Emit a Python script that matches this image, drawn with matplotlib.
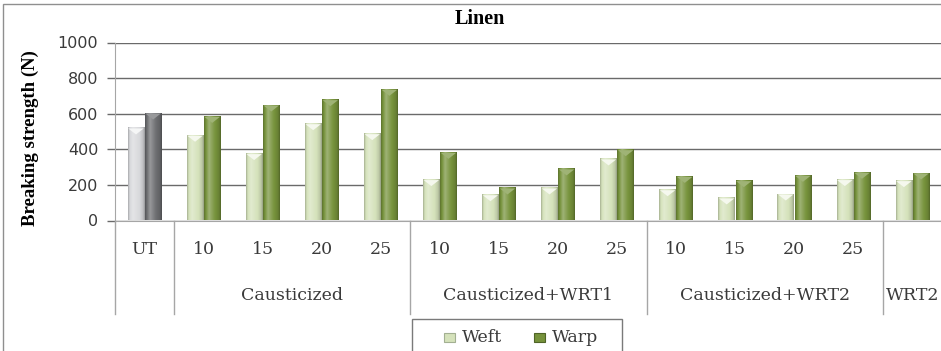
import numpy as np
import matplotlib
matplotlib.use("Agg")
import matplotlib.pyplot as plt
import matplotlib.transforms as mtransforms
from matplotlib.colors import to_rgb
from matplotlib.patches import Polygon, Rectangle
from matplotlib.lines import Line2D

# ---- data -------------------------------------------------------------
sub_labels = ["UT", "10", "15", "20", "25", "10", "15", "20", "25",
              "10", "15", "20", "25", ""]
group_names = ["", "Causticized", "Causticized+WRT1", "Causticized+WRT2", "WRT2"]
group_starts = [0, 1, 5, 9, 13]
group_ends = [0, 4, 8, 12, 13]
weft = [517, 476, 373, 541, 485, 227, 142, 180, 343, 170, 124, 146, 227, 221]
warp = [601, 582, 646, 676, 734, 380, 180, 287, 395, 245, 221, 251, 268, 264]
yticks = [0, 200, 400, 600, 800, 1000]
series_names = ["Weft", "Warp"]

# ---- styling ----------------------------------------------------------
W, H, DPI = 941, 351, 100
WEFT_GREEN = "#d5e2bb"
WARP_GREEN = "#76923b"
WEFT_GREY = "#d8d9dc"
WARP_GREY = "#6c6d70"
GRID = "#6a6a6a"
SEP = "#a6a6a6"
TXT = "#3a3a3a"

fig = plt.figure(figsize=(W / DPI, H / DPI), dpi=DPI)
fig.patch.set_facecolor("white")

# outer chart frame
fig.patches.append(Rectangle((3 / W, -0.1), 1.2, 1 - 4 / H + 0.1,
                             transform=fig.transFigure, fill=False,
                             edgecolor="#8f8f8f", lw=1.0, zorder=0))

ax_l, ax_r, ax_top, ax_bot = 115, 942, 42.5, 220.5
ax = fig.add_axes([ax_l / W, 1 - ax_bot / H, (ax_r - ax_l) / W, (ax_bot - ax_top) / H])
ax.set_facecolor("none")

n = len(sub_labels)
x = np.arange(n)
bw = 0.28
off = 0.145
units_per_px = 1000 / (ax_bot - ax_top)


def shade(c, f):
    r = np.array(to_rgb(c))
    if f >= 0:
        return r + (1 - r) * f
    return r * (1 + f)


def cylinder(c):
    t = np.linspace(0, 1, 64)
    prof = np.interp(t, [0, 0.08, 0.3, 0.6, 0.9, 1.0],
                     [-0.22, -0.05, 0.3, 0.05, -0.12, -0.3])
    return np.array([shade(c, f) for f in prof])[np.newaxis, :, :]


def draw_bar(xc, h, c, cap_light):
    x0, x1 = xc - bw / 2, xc + bw / 2
    ax.imshow(cylinder(c), extent=(x0, x1, 0, h), aspect="auto",
              interpolation="bilinear", zorder=2)
    d = 6 * units_per_px
    ax.add_patch(Polygon([(x0 + 0.01, h), (x1 - 0.01, h), (xc, h - d)],
                         closed=True, facecolor=shade(c, cap_light),
                         edgecolor="none", zorder=3))


for i in range(n):
    wc, pc = (WEFT_GREY, WARP_GREY) if i == 0 else (WEFT_GREEN, WARP_GREEN)
    draw_bar(x[i] - off, weft[i], wc, 0.75)
    draw_bar(x[i] + off, warp[i], pc, 0.3)

ax.set_xlim(-0.5, n - 0.5)
ax.set_ylim(0, 1000)
ax.set_yticks(yticks)
ax.set_yticklabels([str(v) for v in yticks], family="DejaVu Sans",
                   fontsize=11.5, color=TXT)
ax.yaxis.grid(True, color=GRID, lw=1.0, zorder=0)
ax.set_axisbelow(True)
ax.tick_params(axis="y", length=6, width=1, color=GRID, pad=6, direction="out")
ax.tick_params(axis="x", length=0, labelbottom=False)
for s in ["top", "right"]:
    ax.spines[s].set_visible(False)
ax.spines["left"].set_color(SEP)
ax.spines["bottom"].set_color(SEP)

# category axis: sub labels, group labels and separators
tr = mtransforms.blended_transform_factory(ax.transData, ax.transAxes)
hpx = ax_bot - ax_top
for i, lab in enumerate(sub_labels):
    ax.text(x[i], -29 / hpx, lab, transform=tr, ha="center", va="center",
            family="DejaVu Serif", fontsize=12.5, color=TXT)
for name, s, e in zip(group_names, group_starts, group_ends):
    ax.text((s + e) / 2, -75 / hpx, name, transform=tr, ha="center",
            va="center", family="DejaVu Serif", fontsize=12.5, color=TXT)
for s in group_starts:
    ax.add_line(Line2D([s - 0.5, s - 0.5], [0, -93 / hpx], transform=tr,
                       color=SEP, lw=1.0, clip_on=False))

# title and axis label
fig.text(480 / W, 1 - 19 / H, "Linen", ha="center", va="center",
         family="Liberation Serif", fontweight="bold", fontsize=14.5)
fig.text(30 / W, 1 - 138 / H, "Breaking strength (N)", rotation=90,
         ha="center", va="center", family="Liberation Serif",
         fontweight="bold", fontsize=13.5)

# legend box with square keys
def fx(px):
    return px / W


def fy(py):
    return 1 - py / H


fig.patches.append(Rectangle((fx(412), fy(360)), fx(622) - fx(412), fy(319) - fy(360),
                             transform=fig.transFigure, facecolor="white",
                             edgecolor="#7a7a7a", lw=1.0, zorder=5))
key_cols = [WEFT_GREEN, WARP_GREEN]
key_edges = ["#a3b092", "#4f6427"]
key_x = [444, 534]
for name, kx, kc, ke in zip(series_names, key_x, key_cols, key_edges):
    fig.patches.append(Rectangle((fx(kx), fy(342)), 11 / W, 9 / H,
                                 transform=fig.transFigure, facecolor=kc,
                                 edgecolor=ke, lw=0.8, zorder=6))
    fig.text(fx(kx + 18), fy(338), name, ha="left", va="center",
             family="DejaVu Serif", fontsize=12.5, color=TXT, zorder=6)

fig.savefig("out.png", dpi=DPI)
